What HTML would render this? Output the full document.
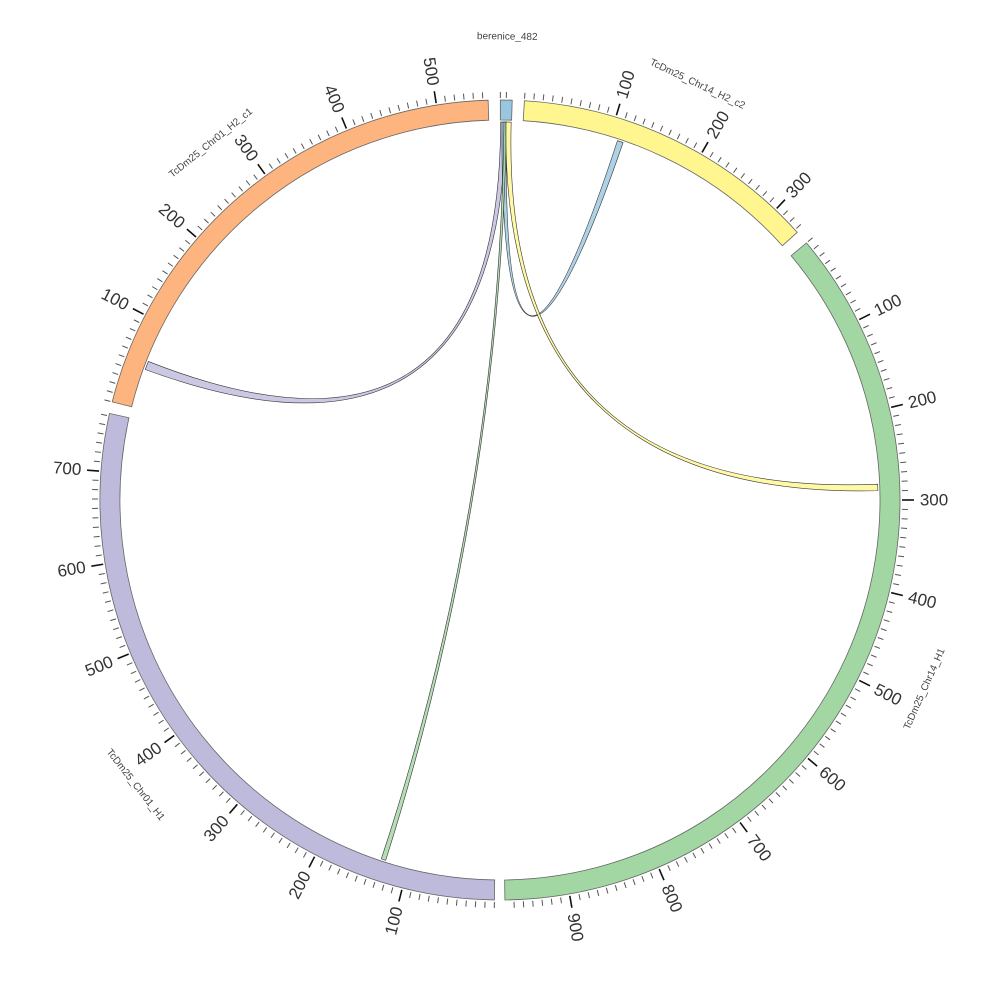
<!DOCTYPE html>
<html><head><meta charset="utf-8"><style>
html,body{margin:0;padding:0;background:#fff;}
svg{display:block;font-family:"Liberation Sans",sans-serif;}
</style></head><body>
<svg id="s" width="1000" height="1000" viewBox="0 0 1000 1000" xmlns="http://www.w3.org/2000/svg"></svg>
<script>
const cx=500,cy=500,R0=380,R1=400;
const S=document.getElementById('s');
function P(a,r){const t=a*Math.PI/180;return [cx+r*Math.sin(t),cy-r*Math.cos(t)];}
function f(p){return p[0].toFixed(2)+','+p[1].toFixed(2);}
let out='';
const k=40/300;
const segs=[
 {n:'berenice_482',a0:0.05,a1:1.75,c:'#9ac7df',len:0,la:0.9,lr:463},
 {n:'TcDm25_Chr14_H2_c2',a0:3.5,a1:48,c:'#fff68f',len:332,la:25.4,lr:460},
 {n:'TcDm25_Chr14_H1',a0:50,a1:179.3,c:'#a2d6a2',len:968,la:114,lr:465},
 {n:'TcDm25_Chr01_H1',a0:180.8,a1:282.5,c:'#bdbadc',len:760,la:232,lr:463},
 {n:'TcDm25_Chr01_H2_c1',a0:284.2,a1:358.3,c:'#fdb47e',len:557,la:321,lr:459}
];
function arcPath(a0,a1,r0,r1){
 const lg=(a1-a0)>180?1:0;
 return 'M'+f(P(a0,r1))+' A'+r1+','+r1+' 0 '+lg+' 1 '+f(P(a1,r1))+' L'+f(P(a1,r0))+' A'+r0+','+r0+' 0 '+lg+' 0 '+f(P(a0,r0))+' Z';
}
function ribbon(b0,b1,t0,t1,c){
 const r=R0-2;
 let d='M'+f(P(b0,r))+' A'+r+','+r+' 0 0 1 '+f(P(b1,r));
 d+=' Q'+cx+','+cy+' '+f(P(t0,r));
 d+=' A'+r+','+r+' 0 0 1 '+f(P(t1,r));
 d+=' Q'+cx+','+cy+' '+f(P(b0,r))+' Z';
 out+='<path d="'+d+'" fill="'+c+'" fill-opacity="0.8" stroke="#333" stroke-width="0.6"/>';
}
ribbon(0.1,0.9,290.2,291.5,'#bdbadc');
ribbon(0.3,1.0,18.1,19.0,'#9ac7df');
ribbon(0.6,1.0,197.6,198.3,'#a2d6a2');
ribbon(0.9,1.7,87.6,88.6,'#fff68f');
for(const s of segs){
 out+='<path d="'+arcPath(s.a0,s.a1,R0,R1)+'" fill="'+s.c+'" stroke="#666" stroke-width="0.8"/>';
 for(let u=0;u<=(s.len||0);u+=10){
  const a=s.a0+u*k; if(a>s.a1+0.01)break;
  const maj=u%100==0&&u>0;
  const p1=P(a,R1+2),p2=P(a,R1+(maj?14:8));
  out+='<line x1="'+p1[0].toFixed(2)+'" y1="'+p1[1].toFixed(2)+'" x2="'+p2[0].toFixed(2)+'" y2="'+p2[1].toFixed(2)+'" stroke="'+(maj?'#111':'#555')+'" stroke-width="'+(maj?1.6:1)+'"/>';
  if(maj){
   const p=P(a,R1+34);
   let rot=a-90; if(a>180)rot=a+90;
   out+='<text x="'+p[0].toFixed(2)+'" y="'+p[1].toFixed(2)+'" transform="rotate('+rot.toFixed(2)+' '+p[0].toFixed(2)+' '+p[1].toFixed(2)+')" text-anchor="middle" dominant-baseline="central" font-size="17" fill="#333">'+u+'</text>';
  }
 }
 if(!s.len){
  const p1=P(0.9,R1+2),p2=P(0.9,R1+8);
  out+='<line x1="'+p1[0]+'" y1="'+p1[1]+'" x2="'+p2[0]+'" y2="'+p2[1]+'" stroke="#555"/>';
 }
 const p=P(s.la,s.lr);
 let rot=s.la; if(s.la>90&&s.la<270)rot=s.la-180;
 out+='<text x="'+p[0].toFixed(2)+'" y="'+p[1].toFixed(2)+'" transform="rotate('+rot.toFixed(2)+' '+p[0].toFixed(2)+' '+p[1].toFixed(2)+')" text-anchor="middle" dominant-baseline="central" font-size="10" fill="#444">'+s.n+'</text>';
}
S.innerHTML=out;
</script>
</body></html>
